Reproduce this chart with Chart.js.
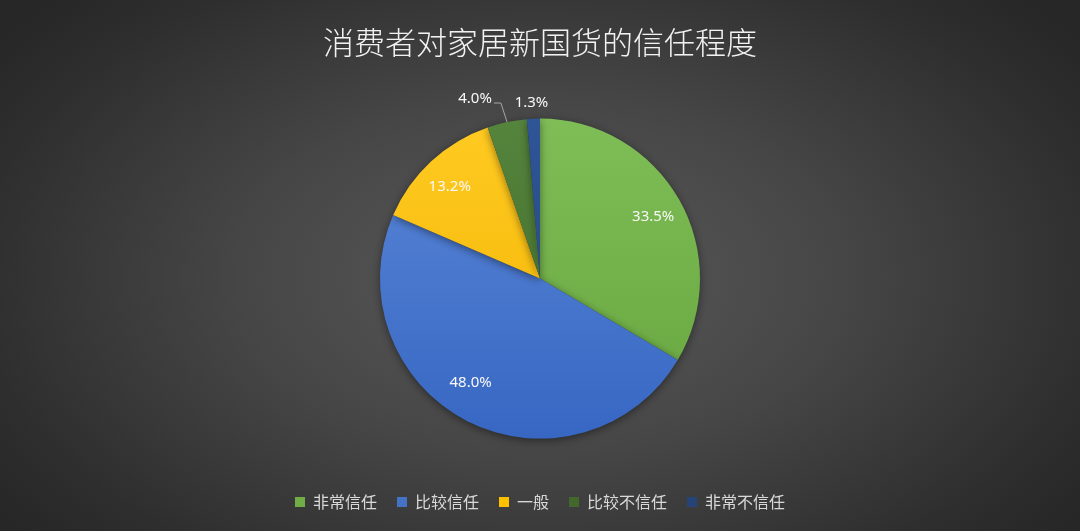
<!DOCTYPE html>
<html>
<head>
<meta charset="utf-8">
<script src="https://cdn.jsdelivr.net/npm/chart.js@4/dist/chart.umd.min.js"></script>
<style>
  html, body { margin: 0; padding: 0; }
  body {
    width: 1080px; height: 531px; overflow: hidden;
    background: radial-gradient(ellipse 62% 75% at 50% 52%, #5a5a5a 0%, #464646 45%, #2e2e2e 85%, #272727 100%);
  }
  #wrap { position: relative; width: 1080px; height: 531px; }
</style>
</head>
<body>
<div id="wrap"><canvas id="trustChart"></canvas></div>
<script>
// data
var categories = ['非常信任', '比较信任', '一般', '比较不信任', '非常不信任'];
var shares = [33.5, 48.0, 13.2, 4.0, 1.3];

// slice colours: top / bottom of the gradient
var colorTop = ['#7fbd57', '#5b87d8', '#ffca22', '#55843d', '#2f5597'];
var colorBottom = ['#67a63f', '#3767c3', '#f2b400', '#3d6a2a', '#24467f'];
var legendColors = ['#70ad47', '#4472c4', '#ffc000', '#43682b', '#264478'];

// label placement: fraction of radius along the slice middle, then a small nudge
var labelRadius = [0.8, 0.79, 0.94, 1, 1];
var labelNudge = [[2, 2], [-12, -8], [12, 18], [-32, -23], [-2, -16]];

var font = "'Noto Sans', 'Noto Sans CJK SC', sans-serif";
var cjkFont = "'Noto Sans CJK SC', 'Noto Sans', sans-serif";

function sliceFill(context) {
    var i = context.dataIndex;
    var chart = context.chart;
    var area = chart.chartArea;
    if (!area) {
        return colorTop[i];
    }
    var cy = (area.top + area.bottom) / 2;
    var g = chart.ctx.createLinearGradient(0, cy - 160, 0, cy + 160);
    g.addColorStop(0, colorTop[i]);
    g.addColorStop(1, colorBottom[i]);
    return g;
}

var pieShadow = {
    id: 'pieShadow',
    beforeDatasetsDraw: function (chart) {
        var ctx = chart.ctx;
        ctx.save();
        ctx.shadowColor = 'rgba(0, 0, 0, 0.45)';
        ctx.shadowBlur = 8;
        ctx.shadowOffsetY = 2;
    },
    afterDatasetsDraw: function (chart) {
        chart.ctx.restore();
    }
};

var sliceLabels = {
    id: 'sliceLabels',
    afterDatasetsDraw: function (chart) {
        var ctx = chart.ctx;
        var meta = chart.getDatasetMeta(0);
        ctx.save();
        ctx.font = '15px ' + font;
        ctx.fillStyle = '#f8f8f8';
        ctx.textAlign = 'center';
        ctx.textBaseline = 'middle';
        meta.data.forEach(function (arc, i) {
            var p = arc.getProps(['x', 'y', 'startAngle', 'endAngle', 'outerRadius'], true);
            var mid = (p.startAngle + p.endAngle) / 2;
            var text = shares[i].toFixed(1) + '%';
            var r = p.outerRadius * labelRadius[i];
            var ex = p.x + Math.cos(mid) * r;
            var ey = p.y + Math.sin(mid) * r;
            var lx = ex + labelNudge[i][0];
            var ly = ey + labelNudge[i][1];
            ctx.fillText(text, lx, ly);
            if (i === 3) {
                // leader line for the small slice
                var w = ctx.measureText(text).width;
                ctx.beginPath();
                ctx.strokeStyle = '#a6a6a6';
                ctx.lineWidth = 1;
                ctx.moveTo(lx + w / 2 + 2, ly + 4);
                ctx.lineTo(lx + w / 2 + 9, ly + 4);
                ctx.lineTo(ex, ey);
                ctx.stroke();
            }
        });
        ctx.restore();
    }
};

var ctx = document.getElementById('trustChart');
new Chart(ctx, {
    type: 'pie',
    data: {
        labels: categories,
        datasets: [{
            data: shares,
            backgroundColor: sliceFill,
            borderWidth: 0,
            radius: 160
        }]
    },
    options: {
        responsive: true,
        maintainAspectRatio: false,
        animation: false,
        layout: {
            padding: { top: 0, bottom: 11 }
        },
        plugins: {
            title: {
                display: true,
                text: '消费者对家居新国货的信任程度',
                color: '#f2f2f2',
                font: { family: cjkFont, size: 31, weight: '300' },
                padding: { top: 24, bottom: 22 }
            },
            legend: {
                position: 'bottom',
                labels: {
                    color: '#d9d9d9',
                    font: { family: cjkFont, size: 16 },
                    boxWidth: 10,
                    boxHeight: 10,
                    padding: 20,
                    generateLabels: function (chart) {
                        return categories.map(function (c, i) {
                            return {
                                text: c,
                                fillStyle: legendColors[i],
                                strokeStyle: legendColors[i],
                                lineWidth: 0,
                                fontColor: '#d9d9d9',
                                index: i
                            };
                        });
                    }
                }
            },
            tooltip: { enabled: false }
        }
    },
    plugins: [pieShadow, sliceLabels]
});
</script>
</body>
</html>
